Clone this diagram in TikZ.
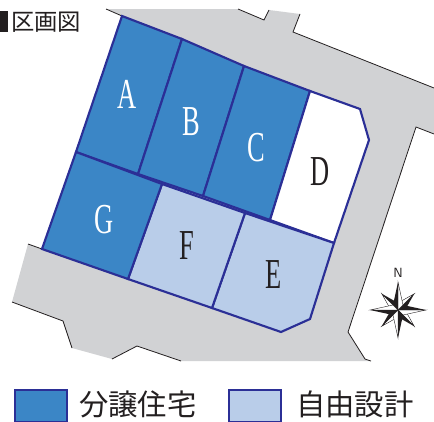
\documentclass[tikz,border=0pt]{standalone}
\usepackage{graphicx}
\usepackage{fontspec}
\setmainfont{Liberation Serif}
\newfontfamily\cjk{Noto Sans CJK JP}
\definecolor{lotblue}{HTML}{3B86C6}
\definecolor{lotpale}{HTML}{B9CDE9}
\definecolor{lotline}{HTML}{2B2F96}
\definecolor{road}{HTML}{D1D2D4}
\definecolor{ink}{HTML}{231F20}
\newcommand{\lotletter}[1]{\scalebox{0.62}[1]{#1}}
\tikzset{x=0.75pt,y=-0.75pt,
  lot/.style={draw=lotline,line width=1.6pt,line join=miter},
  bluelot/.style={lot,fill=lotblue},
  palelot/.style={lot,fill=lotpale},
  kerb/.style={draw=ink,line width=0.6pt},
  letter/.style={font=\fontsize{32}{32}\selectfont,inner sep=0},
  legendtext/.style={font=\cjk\fontsize{22}{22}\selectfont,anchor=west,inner sep=0,text=ink},
  keybox/.style={draw=lotline,line width=1.6pt,minimum width=39pt,minimum height=24.5pt,inner sep=0,anchor=north west},
}
\begin{document}
\begin{tikzpicture}
\useasboundingbox (0,0) rectangle (434,421);
\fill[white] (0,0) rectangle (434,421);
% road
\fill[road] (106,9) -- (238,9) -- (264,20) -- (269,10) -- (300,14) -- (293,32) -- (434,88) -- (434,134) -- (416,127) -- (348,332) -- (365,359) -- (371,361) -- (181,361) -- (137,346) -- (112,359) -- (72,348) -- (63,321) -- (12,302) -- (28,244) -- (42,249) -- (122,16) -- cycle;
\draw[kerb] (106,9) -- (122,16);
\draw[kerb] (238,9) -- (264,20) -- (269,10);
\draw[kerb] (300,14) -- (293,32) -- (434,88);
\draw[kerb] (434,134) -- (416,127) -- (348,332) -- (365,359) -- (371,361);
\draw[kerb] (181,361) -- (137,346) -- (112,359);
\draw[kerb] (72,348) -- (63,321) -- (12,302);
\draw[kerb] (28,244) -- (42,249);
% lots
\path[bluelot] (122,16) -- (182,39) -- (138,174) -- (76,152) -- cycle;
\path[bluelot] (182,39) -- (244,66) -- (203,196) -- (138,174) -- cycle;
\path[bluelot] (244,66) -- (310,91) -- (270,220) -- (203,196) -- cycle;
\path[lot,fill=white] (310,91) -- (360,109) -- (369,140) -- (334,243) -- (270,220) -- cycle;
\path[palelot] (245,213) -- (334,243) -- (310,319) -- (281,332) -- (212,308) -- cycle;
\path[palelot] (162,184) -- (245,213) -- (212,308) -- (128,279) -- cycle;
\path[bluelot] (76,152) -- (162,184) -- (128,279) -- (42,249) -- cycle;
% lot labels
\node[letter,text=white] (a) at (127,94) {\lotletter{A}};
\node[letter,text=white] (b) at (191,122) {\lotletter{B}};
\node[letter,text=white] (c) at (256,148) {\lotletter{C}};
\node[letter,text=ink] (d) at (320,172) {\lotletter{D}};
\node[letter,text=ink] (e) at (274,275) {\lotletter{E}};
\node[letter,text=ink] (f) at (187,246) {\lotletter{F}};
\node[letter,text=white] (g) at (104,220) {\lotletter{G}};
% title
\fill[ink] (0,11) rectangle (8,32);
\node[font=\cjk\fontsize{17.5}{17.5}\selectfont,anchor=west,inner sep=0,text=ink] (title) at (11,22) {区画図};
% compass
\node[font=\fontsize{10}{10}\selectfont\sffamily,inner sep=0,text=ink] (north) at (398,273) {N};
\coordinate (cc) at (398,310);
\foreach \a in {45,135,225,315}{
  \begin{scope}[shift={(cc)},rotate=\a]
    \fill[white,draw=ink,line width=0.3pt] (0,0) -- (23,0) -- (5,-5) -- cycle;
    \fill[ink] (0,0) -- (23,0) -- (5,5) -- cycle;
  \end{scope}}
\foreach \a in {0,90,180,270}{
  \begin{scope}[shift={(cc)},rotate=\a]
    \fill[white,draw=ink,line width=0.3pt] (0,0) -- (28,0) -- (5,5) -- cycle;
    \fill[ink] (0,0) -- (28,0) -- (5,-5) -- cycle;
  \end{scope}}
% legend
\node[keybox,fill=lotblue] (k1) at (14,388.5) {};
\node[legendtext] (t1) at (79,404) {分譲住宅};
\node[keybox,fill=lotpale] (k2) at (228,388.5) {};
\node[legendtext] (t2) at (296,404) {自由設計};
\end{tikzpicture}
\end{document}
